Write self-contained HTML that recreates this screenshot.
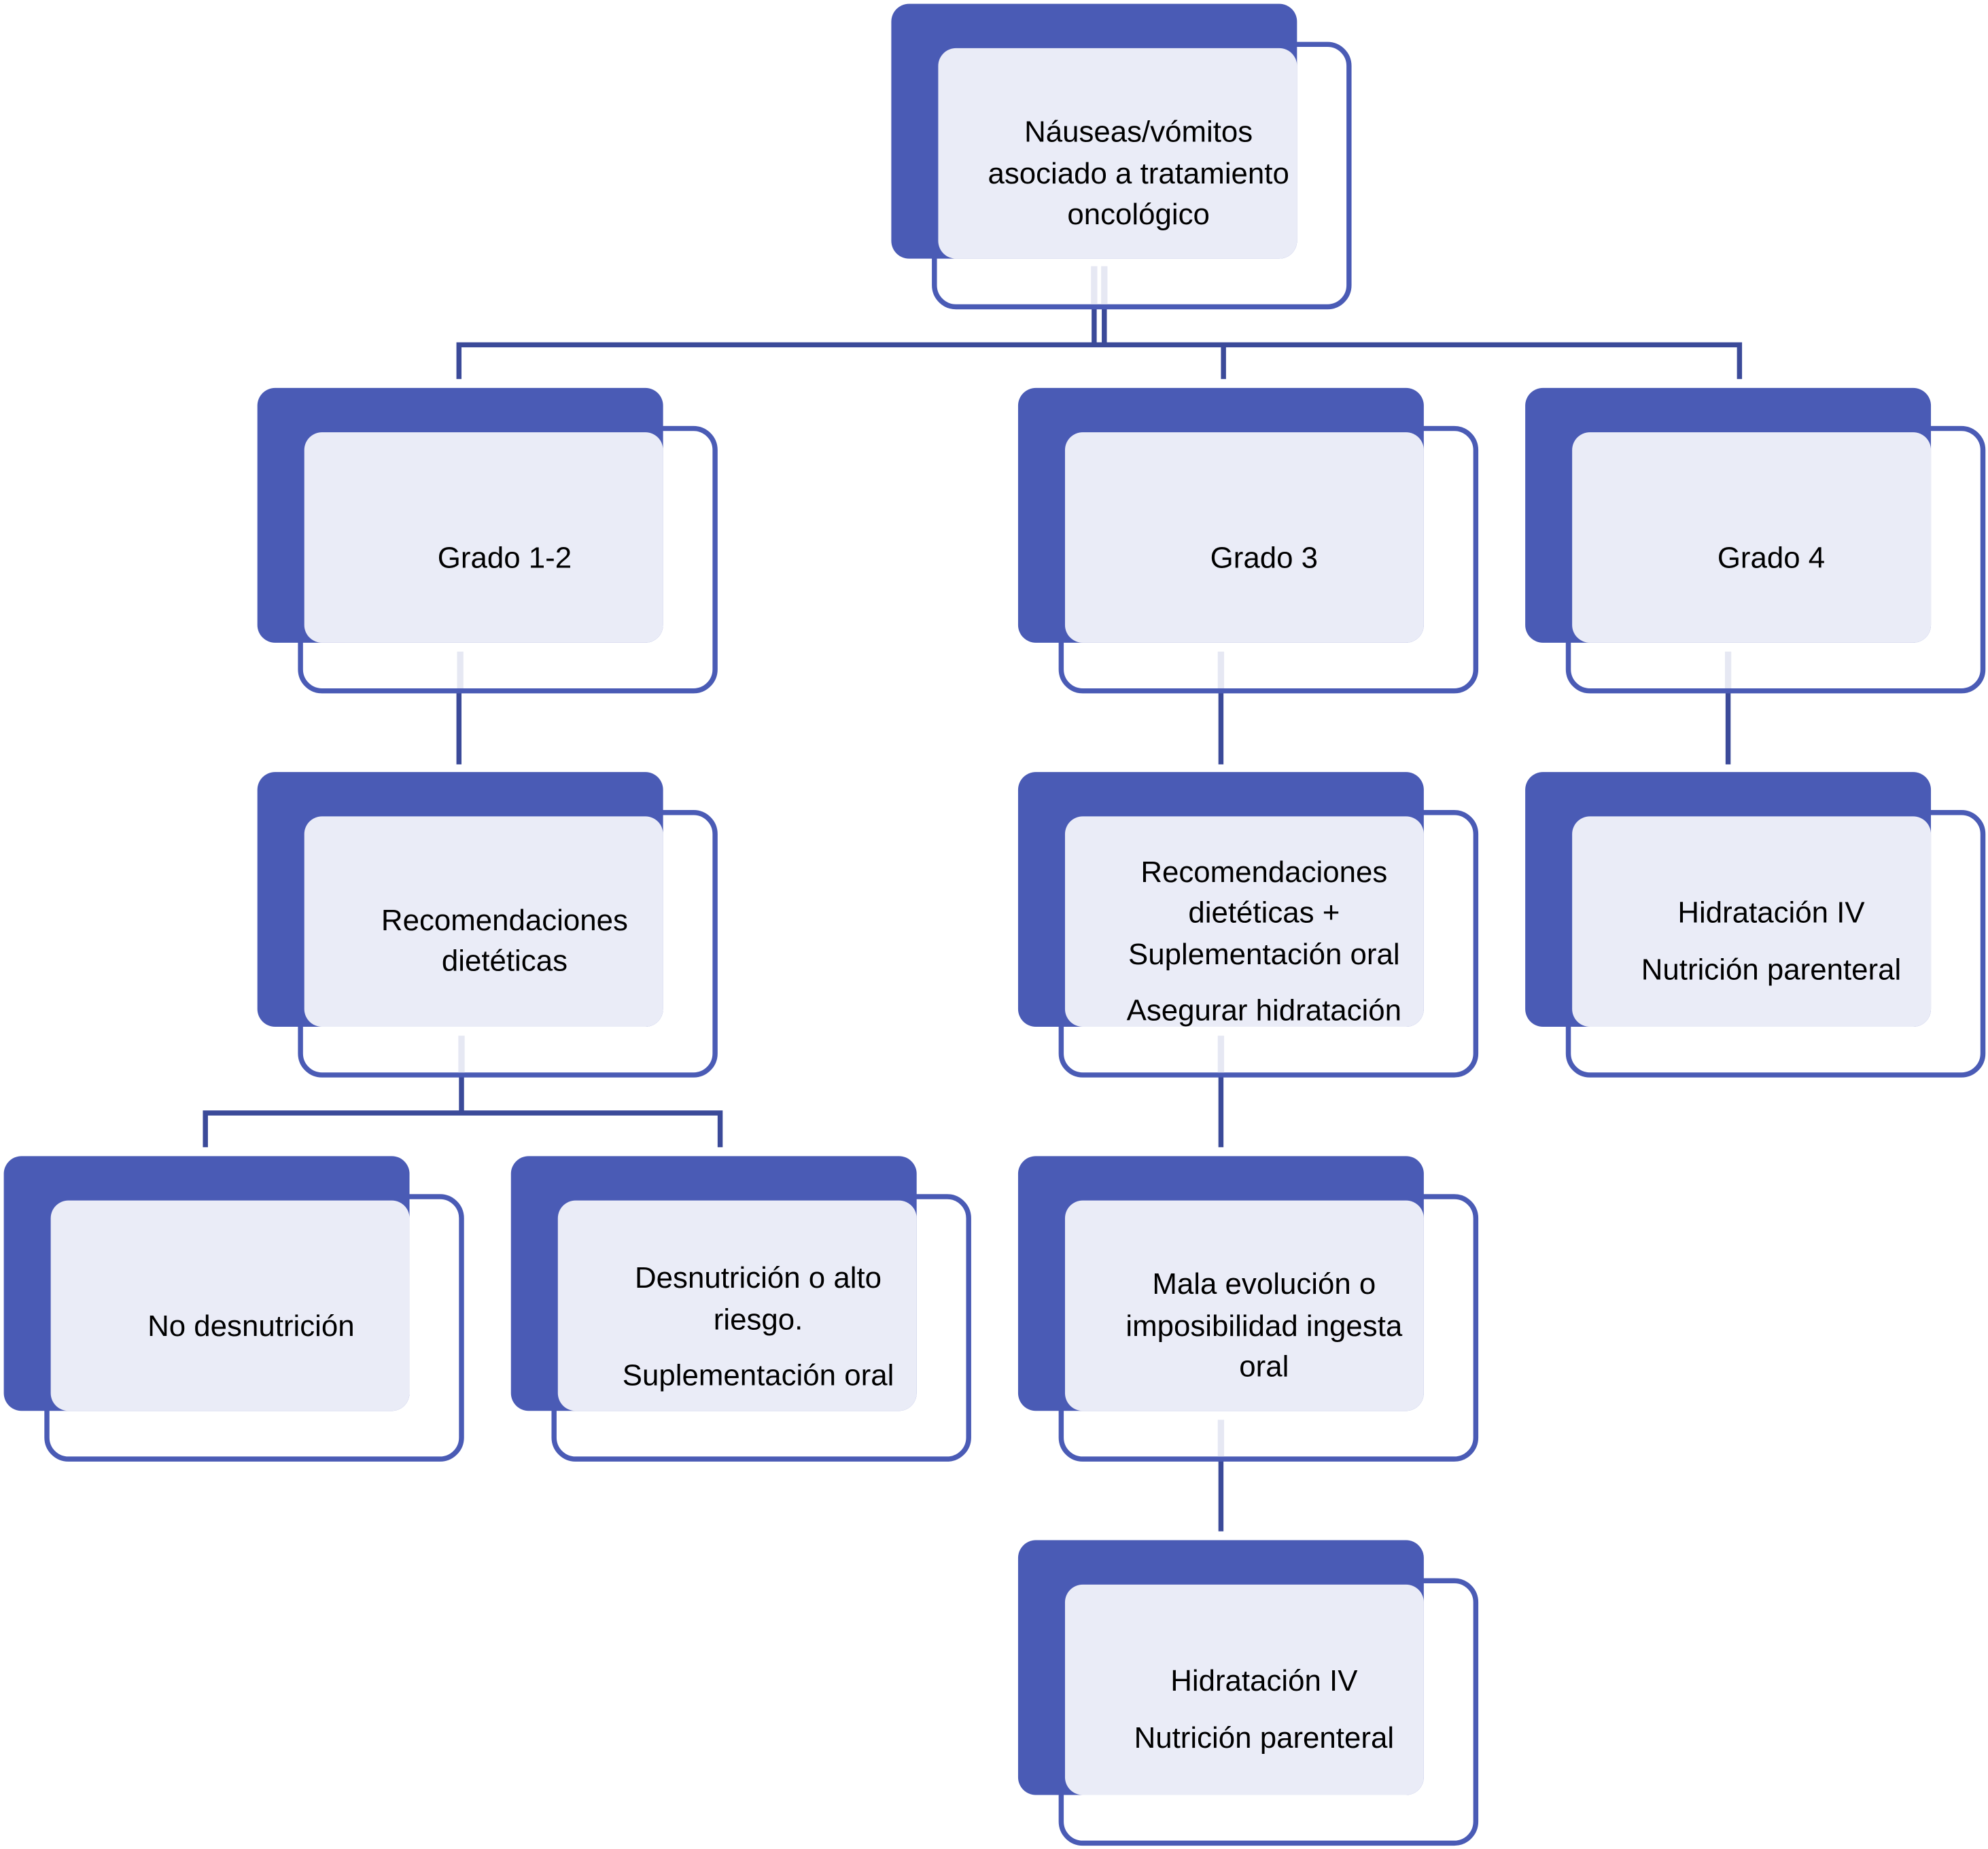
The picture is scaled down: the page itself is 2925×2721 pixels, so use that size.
<!DOCTYPE html>
<html><head><meta charset="utf-8"><style>html,body{margin:0;padding:0;background:#fff}svg{display:block}</style></head>
<body>
<svg width="2925" height="2721" viewBox="0 0 1568 1458.6" xmlns="http://www.w3.org/2000/svg" font-family="Liberation Sans, sans-serif" font-size="23.5" fill="#000">
<defs>
<g id="node">
<rect x="34" y="32" width="327" height="207" rx="17" fill="#fff" stroke="#4a5bb5" stroke-width="4"/>
<rect x="0" y="0" width="320" height="201" rx="14" fill="#4a5bb5"/>
<rect x="37" y="35" width="283" height="166" rx="14" fill="#eaecf7"/>
</g>
</defs>
<!-- connectors -->
<g stroke="#3b4a99" stroke-width="4" fill="none">
<line x1="863" y1="243" x2="863" y2="272"/>
<line x1="871" y1="243" x2="871" y2="272"/>
<polyline points="362,299 362,272 1372,272 1372,299"/>
<line x1="965" y1="272" x2="965" y2="299"/>
<line x1="362" y1="546" x2="362" y2="603"/>
<line x1="963" y1="546" x2="963" y2="603"/>
<line x1="1363" y1="546" x2="1363" y2="603"/>
<line x1="364" y1="848" x2="364" y2="878"/>
<polyline points="162,905 162,878 568,878 568,905"/>
<line x1="963" y1="848" x2="963" y2="905"/>
<line x1="963" y1="1151" x2="963" y2="1208"/>
</g>
<use href="#node" x="703" y="3"/>
<use href="#node" x="203" y="306"/>
<use href="#node" x="803" y="306"/>
<use href="#node" x="1203" y="306"/>
<use href="#node" x="203" y="609"/>
<use href="#node" x="803" y="609"/>
<use href="#node" x="1203" y="609"/>
<use href="#node" x="3" y="912"/>
<use href="#node" x="403" y="912"/>
<use href="#node" x="803" y="912"/>
<use href="#node" x="803" y="1215"/>
<g stroke="#e6e8f3" stroke-width="5">
<line x1="863" y1="210" x2="863" y2="240"/><line x1="871" y1="210" x2="871" y2="240"/>
<line x1="363" y1="514" x2="363" y2="543"/>
<line x1="963" y1="514" x2="963" y2="543"/>
<line x1="1363" y1="514" x2="1363" y2="543"/>
<line x1="364" y1="817" x2="364" y2="846"/>
<line x1="963" y1="817" x2="963" y2="846"/>
<line x1="963" y1="1120" x2="963" y2="1149"/>
</g>
<g text-anchor="middle" dominant-baseline="central">
<text x="898" y="104">Náuseas/vómitos</text>
<text x="898" y="137">asociado a tratamiento</text>
<text x="898" y="169">oncológico</text>
<text x="398" y="440">Grado 1-2</text>
<text x="997" y="440">Grado 3</text>
<text x="1397" y="440">Grado 4</text>
<text x="398" y="726">Recomendaciones</text>
<text x="398" y="758">dietéticas</text>
<text x="997" y="688">Recomendaciones</text>
<text x="997" y="720">dietéticas +</text>
<text x="997" y="753">Suplementación oral</text>
<text x="997" y="797">Asegurar hidratación</text>
<text x="1397" y="720">Hidratación IV</text>
<text x="1397" y="765">Nutrición parenteral</text>
<text x="198" y="1046">No desnutrición</text>
<text x="598" y="1008">Desnutrición o alto</text>
<text x="598" y="1041">riesgo.</text>
<text x="598" y="1085">Suplementación oral</text>
<text x="997" y="1013">Mala evolución o</text>
<text x="997" y="1046">imposibilidad ingesta</text>
<text x="997" y="1078">oral</text>
<text x="997" y="1326">Hidratación IV</text>
<text x="997" y="1371">Nutrición parenteral</text>
</g>
</svg>
</body></html>
